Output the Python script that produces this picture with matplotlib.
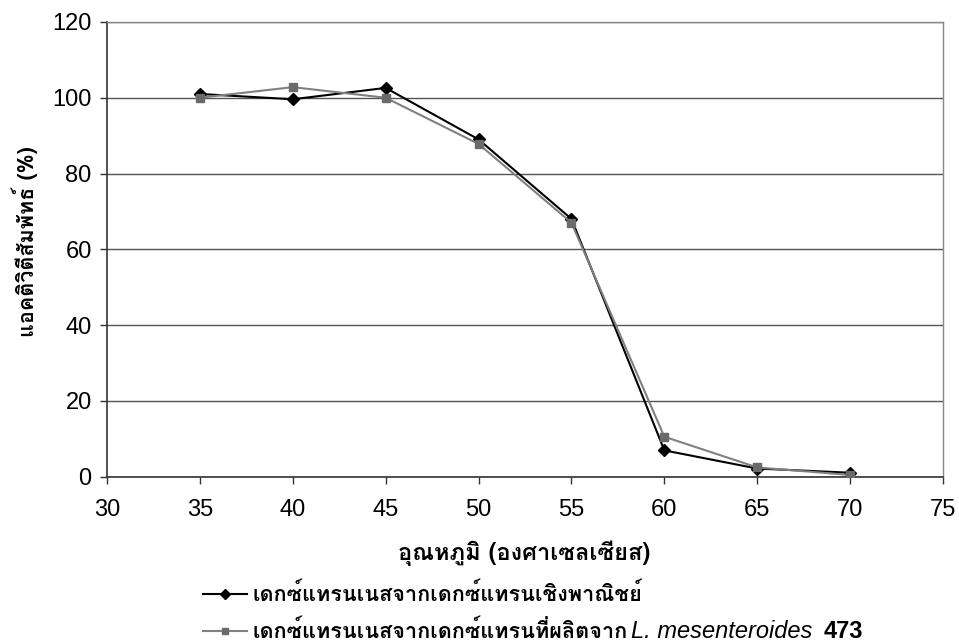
import matplotlib
matplotlib.use("Agg")
import matplotlib.pyplot as plt
from matplotlib import font_manager
from matplotlib.ft2font import FT2Font
from matplotlib.lines import Line2D

# Temperature (°C) and relative activity (%) of dextranase
temperature = [35, 40, 45, 50, 55, 60, 65, 70]
activity_commercial = [101, 99.6, 102.6, 89, 68, 6.9, 2.1, 1.0]
activity_produced = [100, 102.8, 100, 87.8, 67, 10.5, 2.4, 0.4]

x_ticks = [30, 35, 40, 45, 50, 55, 60, 65, 70, 75]
y_ticks = [0, 20, 40, 60, 80, 100, 120]

x_label = "อุณหภูมิ (องศาเซลเซียส)"
y_label = "แอคติวิตีสัมพัทธ์ (%)"
label_commercial = "เดกซ์แทรนเนสจากเดกซ์แทรนเชิงพาณิชย์"
label_produced = "เดกซ์แทรนเนสจากเดกซ์แทรนที่ผลิตจาก"
species = "L. mesenteroides"
strain = "473"


def find_thai_family():
    """Return a family covering Thai, preferring one with a bold face."""
    regular, bold = None, None
    for entry in font_manager.fontManager.ttflist:
        try:
            if 0x0E01 not in FT2Font(entry.fname).get_charmap():
                continue
        except Exception:
            continue
        weight = entry.weight if isinstance(entry.weight, int) else 400
        if weight >= 600 and bold is None:
            bold = entry.name
        if regular is None:
            regular = entry.name
    return bold or regular


thai = find_thai_family()
latin = "Liberation Sans"
text_family = [thai, latin, "DejaVu Sans"] if thai else [latin, "DejaVu Sans"]
plt.rcParams["font.family"] = [latin, "DejaVu Sans"]

W, H = 959, 641
fig = plt.figure(figsize=(W / 100, H / 100), dpi=100)
ax = fig.add_axes([107 / W, 1 - 476.5 / H, (943 - 107) / W, (476.5 - 22) / H])

series = [
    (activity_commercial, "black", "D", "black"),
    (activity_produced, "#808080", "s", "#6a6a6a"),
]
for values, line_color, marker, marker_color in series:
    ax.plot(temperature, values, color=line_color, lw=1.5, marker=marker,
            markersize=6, markerfacecolor=marker_color,
            markeredgecolor=marker_color, zorder=3)

ax.set_xlim(30, 75)
ax.set_ylim(0, 120)
ax.set_xticks(x_ticks)
ax.set_yticks(y_ticks)
ax.tick_params(axis="both", labelsize=17, direction="out", length=5,
               width=1, color="#333333")
ax.tick_params(axis="x", pad=11)
ax.tick_params(axis="y", pad=6)
ax.yaxis.grid(True, color="#555555", lw=1)
ax.set_axisbelow(True)
for side in ("left", "bottom"):
    ax.spines[side].set_color("#333333")
    ax.spines[side].set_linewidth(1.2)
for side in ("right", "top"):
    ax.spines[side].set_color("#888888")
    ax.spines[side].set_linewidth(1)

fig.text(524 / W, 1 - 553 / H, x_label, family=text_family, fontsize=17,
         fontweight="bold", ha="center", va="center")
fig.text(25 / W, 1 - 242 / H, y_label, family=text_family, fontsize=15.5,
         fontweight="bold", ha="center", va="center", rotation=90)

# Legend rows drawn below the plot area
rows = [(594, series[0], label_commercial), (631, series[1], label_produced)]
row_texts = []
for y_px, (values, line_color, marker, marker_color), label in rows:
    yf = 1 - y_px / H
    fig.add_artist(Line2D([203 / W, 247 / W], [yf, yf], color=line_color,
                          lw=1.5, transform=fig.transFigure))
    fig.add_artist(Line2D([225 / W], [yf], marker=marker, markersize=5,
                          markerfacecolor=marker_color,
                          markeredgecolor=marker_color, lw=0,
                          transform=fig.transFigure))
    row_texts.append(fig.text(252 / W, yf, label, family=text_family,
                              fontsize=15.6, fontweight="bold", ha="left",
                              va="center"))

fig.canvas.draw()
renderer = fig.canvas.get_renderer()
ext = row_texts[1].get_window_extent(renderer)
yf = 1 - 631 / H
sp = fig.text((ext.x1 + 4) / W, yf, species, family=[latin], fontsize=17,
              style="italic", ha="left", va="center")
fig.canvas.draw()
ext2 = sp.get_window_extent(renderer)
fig.text((ext2.x1 + 11) / W, yf, strain, family=[latin], fontsize=17,
         fontweight="bold", ha="left", va="center")

fig.savefig("out.png", dpi=100, facecolor="white")
